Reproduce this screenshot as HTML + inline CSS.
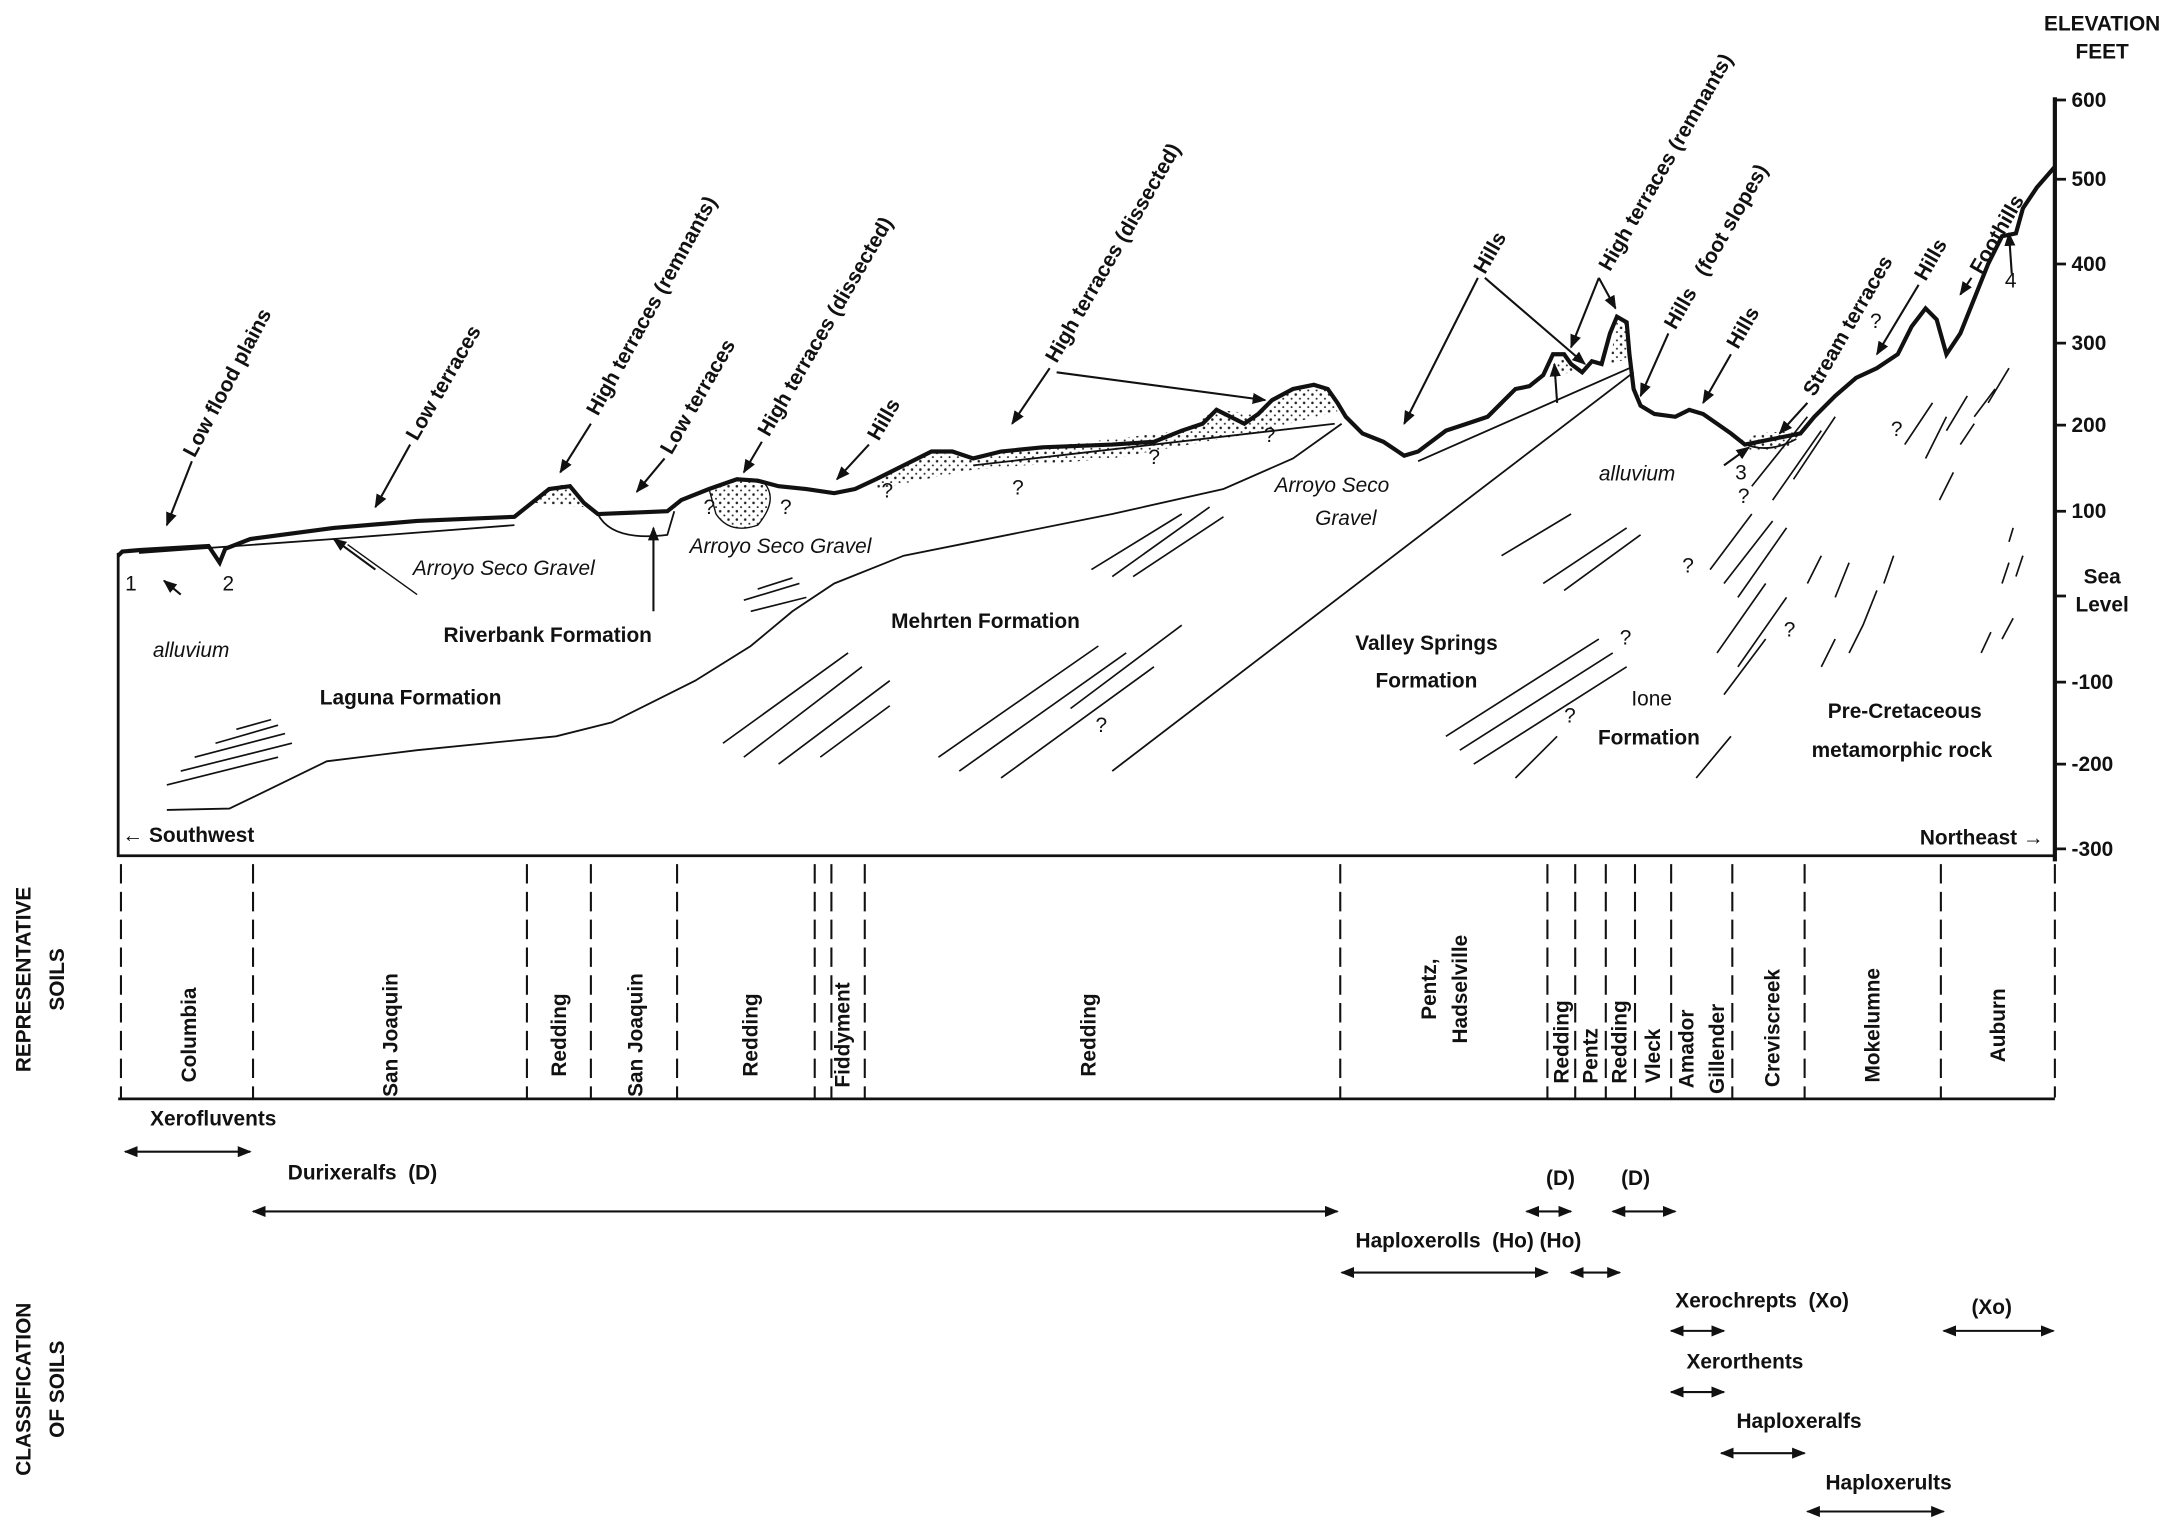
<!DOCTYPE html>
<html><head><meta charset="utf-8"><style>
html,body{margin:0;padding:0;background:#fff}
svg{display:block}
text{font-family:"Liberation Sans",sans-serif;font-size:15px;fill:#111;font-weight:bold}
.it{font-style:italic;font-weight:normal}
.n{font-weight:normal}
</style></head><body>
<svg width="2180" height="1524" viewBox="0 0 1568 1097" preserveAspectRatio="none" xmlns="http://www.w3.org/2000/svg">
<defs>
<marker id="a" markerWidth="10" markerHeight="8" refX="9" refY="4" orient="auto" markerUnits="userSpaceOnUse"><path d="M0,0 L10,4 L0,8 z" fill="#111"/></marker>
<marker id="b" markerWidth="10" markerHeight="8" refX="1" refY="4" orient="auto" markerUnits="userSpaceOnUse"><path d="M10,0 L0,4 L10,8 z" fill="#111"/></marker>
<pattern id="dots" width="6" height="6" patternUnits="userSpaceOnUse"><circle cx="2" cy="2" r="0.9" fill="#222"/><circle cx="5" cy="5" r="0.7" fill="#222"/></pattern>
</defs>
<g stroke="#111" fill="none">
<!-- frame -->
<path d="M85,398 V616 H1478" stroke-width="2"/>
<path d="M1478,70 V620" stroke-width="3"/>
<g stroke-width="2">
<path d="M1478,72h8M1478,129h8M1478,190h8M1478,247h8M1478,306h8M1478,368h8M1478,429h8M1478,491h8M1478,550h8M1478,611h8"/>
</g>
<!-- gravel fills -->
<path d="M385,362 Q398,345 412,350 L420,365 Z" fill="url(#dots)" stroke="none"/>
<path d="M510,352 Q530,342 550,348 Q560,360 545,378 Q525,385 515,370 Z" fill="url(#dots)" stroke-width="1"/>
<path d="M630,345 L670,325 L700,330 L750,322 L850,310 L875,295 L905,298 L930,280 L955,280 L962,296 L900,312 L800,330 L700,338 L630,352 Z" fill="url(#dots)" stroke="none"/>
<path d="M1115,270 Q1120,255 1128,258 L1132,268 Z" fill="url(#dots)" stroke="none"/>
<path d="M1158,262 L1163,230 L1170,232 L1172,258 Z" fill="url(#dots)" stroke="none"/>
<path d="M1250,318 Q1270,308 1295,312 L1290,322 L1260,325 Z" fill="url(#dots)" stroke="none"/>
<!-- surface -->
<path stroke-width="3" d="M85,400 L88,397 L100,396 L150,393 L158,405 L162,395 L180,388 L240,380 L300,375 L370,372 L385,360 L395,352 L410,350 L420,362 L430,370 L480,368 L490,360 L510,352 L530,345 L545,346 L560,350 L580,352 L600,355 L615,352 L630,345 L650,335 L670,325 L685,325 L700,330 L720,325 L750,322 L800,320 L830,318 L850,310 L865,305 L875,295 L885,300 L895,305 L905,298 L915,288 L930,280 L945,277 L955,280 L962,290 L968,300 L980,312 L995,318 L1010,328 L1020,325 L1040,310 L1055,305 L1070,300 L1080,290 L1090,280 L1100,278 L1110,270 L1117,255 L1125,255 L1130,262 L1138,268 L1145,260 L1152,262 L1158,240 L1163,228 L1170,232 L1172,255 L1175,280 L1180,292 L1190,298 L1205,300 L1215,295 L1225,298 L1235,305 L1245,312 L1255,320 L1265,318 L1280,315 L1295,312 L1305,300 L1320,285 L1335,272 L1350,265 L1365,255 L1375,235 L1385,222 L1393,230 L1400,255 L1410,240 L1420,215 L1430,190 L1440,170 L1450,168 L1455,150 L1465,135 L1478,120"/>
<!-- thin contacts -->
<g stroke-width="1.3">
<path d="M100,398 L240,388 L370,378"/>
<path d="M430,370 Q440,390 480,385 L485,368"/>
<path d="M120,583 L165,582 L190,570 L235,548 L300,540 L400,530 L440,520 L470,505 L500,490 L540,465 L570,440 L600,420 L650,400 L700,390 L800,370 L880,352 L930,330 L965,305"/>
<path d="M700,335 L960,305"/>
<path d="M1020,332 L1172,265"/>
<path d="M800,555 L1175,268"/>
<path d="M1252,318 Q1270,328 1292,316"/>
</g>
<!-- hatching -->
<g stroke-width="1.2">
<path d="M120,565 L200,545 M130,555 L210,535 M140,545 L205,528 M155,535 L200,522 M170,525 L195,518"/>
<path d="M540,440 L580,430 M535,432 L575,420 M545,424 L570,416"/>
<path d="M520,535 L610,470 M535,545 L620,480 M560,550 L640,490 M590,545 L640,508"/>
<path d="M675,545 L790,465 M690,555 L810,470 M720,560 L830,480 M770,510 L850,450"/>
<path d="M785,410 L850,370 M800,415 L870,365 M815,415 L880,372"/>
<path d="M1040,530 L1150,460 M1050,540 L1160,470 M1060,550 L1170,480 M1090,560 L1120,530"/>
<path d="M1110,420 L1170,380 M1125,425 L1180,385 M1080,400 L1130,370"/>
<path d="M1230,410 L1260,370 M1240,420 L1275,375 M1250,430 L1285,380 M1235,470 L1270,420 M1250,480 L1285,430 M1240,500 L1270,460 M1220,560 L1245,530 M1260,350 L1300,300 M1275,360 L1310,310 M1290,345 L1320,300"/>
<path d="M1300,420 L1310,400 M1320,430 L1330,405 M1340,450 L1350,425 M1310,480 L1320,460 M1330,470 L1340,450 M1355,420 L1362,400 M1370,320 L1390,290 M1385,330 L1400,300 M1395,360 L1405,340 M1400,310 L1415,285 M1420,300 L1435,280 M1430,290 L1445,265 M1410,320 L1420,305 M1440,420 L1445,405 M1450,415 L1455,400 M1425,470 L1432,455 M1440,460 L1448,445 M1445,390 L1448,380"/>
</g>
<!-- label arrows -->
<g stroke-width="1.5" marker-end="url(#a)">
<path d="M138,332 L120,378"/>
<path d="M295,320 L270,365"/>
<path d="M425,305 L403,340"/>
<path d="M478,330 L458,354"/>
<path d="M548,318 L535,340"/>
<path d="M625,320 L602,345"/>
<path d="M755,265 L728,305"/>
<path d="M760,268 L910,288"/>
<path d="M1063,200 L1010,305"/>
<path d="M1068,200 L1140,262"/>
<path d="M1150,200 L1130,250"/>
<path d="M1150,200 L1162,222"/>
<path d="M1200,240 L1180,285"/>
<path d="M1245,255 L1225,290"/>
<path d="M1300,290 L1280,312"/>
<path d="M1380,205 L1350,255"/>
<path d="M1418,200 L1410,212"/>
<path d="M1447,197 L1445,168"/>
<path d="M130,428 L118,418"/>
<path d="M270,410 L240,388"/>
<path d="M470,440 L470,380"/>
<path d="M1120,290 L1118,262"/>
<path d="M1240,335 L1258,322"/>
</g>
<path d="M300,428 L250,392" stroke-width="1"/>
<!-- table -->
<g stroke-width="1.5" stroke-dasharray="14,6">
<path d="M87,622V790 M182,622V790 M379,622V790 M425,622V790 M487,622V790 M586,622V790 M598,622V790 M622,622V790 M964,622V790 M1113,622V790 M1133,622V790 M1155,622V790 M1176,622V790 M1202,622V790 M1246,622V790 M1298,622V790 M1396,622V790 M1478,622V790"/>
</g>
<path d="M85,791 H1478" stroke-width="2"/>
<!-- classification arrows -->
<g stroke-width="1.5" marker-end="url(#a)" marker-start="url(#b)">
<path d="M90,829 H180"/>
<path d="M182,872 H962"/>
<path d="M1098,872 H1130"/>
<path d="M1160,872 H1205"/>
<path d="M965,916 H1113"/>
<path d="M1130,916 H1165"/>
<path d="M1202,958 H1240"/>
<path d="M1398,958 H1477"/>
<path d="M1202,1002 H1240"/>
<path d="M1238,1046 H1298"/>
<path d="M1300,1088 H1398"/>
</g>
</g>
<!-- axis labels -->
<text x="1512" y="22" text-anchor="middle">ELEVATION</text>
<text x="1512" y="42" text-anchor="middle">FEET</text>
<g text-anchor="start">
<text x="1490" y="77">600</text><text x="1490" y="134">500</text><text x="1490" y="195">400</text><text x="1490" y="252">300</text><text x="1490" y="311">200</text><text x="1490" y="373">100</text>
<text x="1512" y="420" text-anchor="middle">Sea</text><text x="1512" y="440" text-anchor="middle">Level</text>
<text x="1490" y="496">-100</text><text x="1490" y="555">-200</text><text x="1490" y="616">-300</text>
</g>
<!-- profile labels -->
<text transform="translate(140,330) rotate(-62)">Low flood plains</text>
<text transform="translate(300,318) rotate(-60)">Low terraces</text>
<text transform="translate(430,300) rotate(-61)">High terraces (remnants)</text>
<text transform="translate(483,328) rotate(-60)">Low terraces</text>
<text transform="translate(553,315) rotate(-60)">High terraces (dissected)</text>
<text transform="translate(632,318) rotate(-60)">Hills</text>
<text transform="translate(760,262) rotate(-60)">High terraces (dissected)</text>
<text transform="translate(1068,198) rotate(-60)">Hills</text>
<text transform="translate(1158,196) rotate(-60)">High terraces (remnants)</text>
<text transform="translate(1205,238) rotate(-60)">Hills&#160;&#160;&#160;(foot slopes)</text>
<text transform="translate(1250,252) rotate(-60)">Hills</text>
<text transform="translate(1305,286) rotate(-60)">Stream terraces</text>
<text transform="translate(1385,203) rotate(-60)">Hills</text>
<text transform="translate(1425,198) rotate(-60)">Foothills</text>
<text x="1442" y="207" class="n">4</text>
<text x="90" y="425" class="n">1</text>
<text x="160" y="425" class="n">2</text>
<text x="1248" y="345" class="n">3</text>
<text x="110" y="473" class="it">alluvium</text>
<text x="1150" y="346" class="it">alluvium</text>
<text x="297" y="414" class="it">Arroyo Seco Gravel</text>
<text x="496" y="398" class="it">Arroyo Seco Gravel</text>
<text x="958" y="354" class="it" text-anchor="middle">Arroyo Seco</text>
<text x="968" y="378" class="it" text-anchor="middle">Gravel</text>
<text x="319" y="462">Riverbank Formation</text>
<text x="230" y="507">Laguna Formation</text>
<text x="641" y="452">Mehrten Formation</text>
<text x="1026" y="468" text-anchor="middle">Valley Springs</text>
<text x="1026" y="495" text-anchor="middle">Formation</text>
<text x="1188" y="508" text-anchor="middle" class="n">Ione</text>
<text x="1186" y="536" text-anchor="middle">Formation</text>
<text x="1370" y="517" text-anchor="middle">Pre-Cretaceous</text>
<text x="1368" y="545" text-anchor="middle">metamorphic rock</text>
<text x="88" y="606">← Southwest</text>
<text x="1470" y="608" text-anchor="end">Northeast →</text>
<g class="n" font-size="12">
<text x="506" y="370" class="n">?</text><text x="561" y="370" class="n">?</text><text x="634" y="358" class="n">?</text><text x="728" y="356" class="n">?</text><text x="826" y="334" class="n">?</text><text x="909" y="318" class="n">?</text><text x="788" y="527" class="n">?</text><text x="1250" y="362" class="n">?</text><text x="1210" y="412" class="n">?</text><text x="1165" y="464" class="n">?</text><text x="1125" y="520" class="n">?</text><text x="1283" y="458" class="n">?</text><text x="1360" y="314" class="n">?</text><text x="1345" y="236" class="n">?</text>
</g>
<!-- soil names -->
<g text-anchor="middle">
<text transform="translate(141,745) rotate(-90)">Columbia</text>
<text transform="translate(286,745) rotate(-90)">San Joaquin</text>
<text transform="translate(407,745) rotate(-90)">Redding</text>
<text transform="translate(462,745) rotate(-90)">San Joaquin</text>
<text transform="translate(545,745) rotate(-90)">Redding</text>
<text transform="translate(611,745) rotate(-90)">Fiddyment</text>
<text transform="translate(788,745) rotate(-90)">Redding</text>
<text transform="translate(1033,712) rotate(-90)">Pentz,</text>
<text transform="translate(1055,712) rotate(-90)">Hadselville</text>
<text transform="translate(1128,750) rotate(-90)">Redding</text>
<text transform="translate(1149,760) rotate(-90)">Pentz</text>
<text transform="translate(1170,750) rotate(-90)">Redding</text>
<text transform="translate(1194,760) rotate(-90)">Vleck</text>
<text transform="translate(1218,755) rotate(-90)">Amador</text>
<text transform="translate(1240,755) rotate(-90)">Gillender</text>
<text transform="translate(1280,740) rotate(-90)">Creviscreek</text>
<text transform="translate(1352,738) rotate(-90)">Mokelumne</text>
<text transform="translate(1442,738) rotate(-90)">Auburn</text>
<text transform="translate(22,705) rotate(-90)">REPRESENTATIVE</text>
<text transform="translate(46,705) rotate(-90)">SOILS</text>
<text transform="translate(22,1000) rotate(-90)">CLASSIFICATION</text>
<text transform="translate(46,1000) rotate(-90)">OF SOILS</text>
</g>
<!-- classification labels -->
<text x="108" y="810">Xerofluvents</text>
<text x="207" y="849">Durixeralfs&#160;&#160;(D)</text>
<text x="1112" y="853">(D)</text>
<text x="1166" y="853">(D)</text>
<text x="975" y="898">Haploxerolls&#160;&#160;(Ho)&#160;(Ho)</text>
<text x="1205" y="941">Xerochrepts&#160;&#160;(Xo)</text>
<text x="1418" y="946">(Xo)</text>
<text x="1213" y="985">Xerorthents</text>
<text x="1249" y="1028">Haploxeralfs</text>
<text x="1313" y="1072">Haploxerults</text>
</svg>
</body></html>
